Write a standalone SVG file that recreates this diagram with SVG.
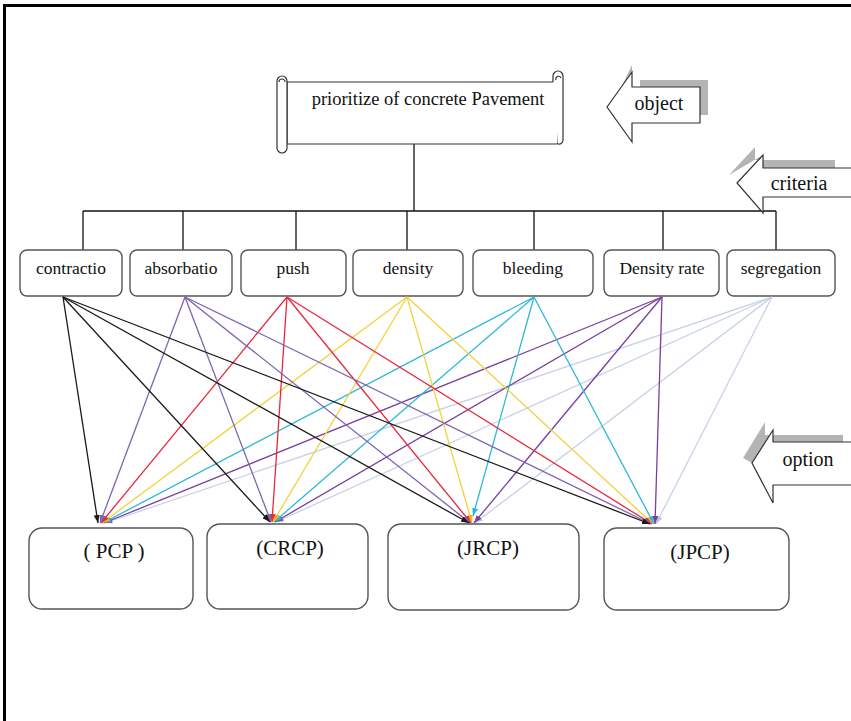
<svg xmlns="http://www.w3.org/2000/svg" width="851" height="721" viewBox="0 0 851 721">
<style>
.t{font-family:"Liberation Serif","Times New Roman",serif;fill:#111}
.box{fill:#fff;stroke:#555;stroke-width:1.4}
.tree{stroke:#111;stroke-width:1.3;fill:none}
.c{fill:none;stroke-width:1.3}
.blk{fill:#fff;stroke:#333;stroke-width:1.2}
.shd{fill:#b4b4b4}
</style>
<defs>
<marker id="mk" viewBox="0 0 8 6" refX="8" refY="3" markerWidth="8" markerHeight="6" markerUnits="userSpaceOnUse" orient="auto"><path d="M0,0 L8,3 L0,6 z" fill="#1a1a1a"/></marker>
<marker id="ma" viewBox="0 0 8 6" refX="8" refY="3" markerWidth="8" markerHeight="6" markerUnits="userSpaceOnUse" orient="auto"><path d="M0,0 L8,3 L0,6 z" fill="#7f63b0"/></marker>
<marker id="mp" viewBox="0 0 8 6" refX="8" refY="3" markerWidth="8" markerHeight="6" markerUnits="userSpaceOnUse" orient="auto"><path d="M0,0 L8,3 L0,6 z" fill="#e8283c"/></marker>
<marker id="md" viewBox="0 0 8 6" refX="8" refY="3" markerWidth="8" markerHeight="6" markerUnits="userSpaceOnUse" orient="auto"><path d="M0,0 L8,3 L0,6 z" fill="#f0b020"/></marker>
<marker id="mb" viewBox="0 0 8 6" refX="8" refY="3" markerWidth="8" markerHeight="6" markerUnits="userSpaceOnUse" orient="auto"><path d="M0,0 L8,3 L0,6 z" fill="#2db8d6"/></marker>
<marker id="mr" viewBox="0 0 8 6" refX="8" refY="3" markerWidth="8" markerHeight="6" markerUnits="userSpaceOnUse" orient="auto"><path d="M0,0 L8,3 L0,6 z" fill="#7a3fa0"/></marker>
<marker id="ms" viewBox="0 0 8 6" refX="8" refY="3" markerWidth="8" markerHeight="6" markerUnits="userSpaceOnUse" orient="auto"><path d="M0,0 L8,3 L0,6 z" fill="#b8c4dc"/></marker>
</defs>
<rect width="851" height="721" fill="#fff"/>
<path d="M4.5,721 V5.5 H851" fill="none" stroke="#000" stroke-width="3"/>

<g id="tree" class="tree">
<path d="M414,144 V211"/>
<path d="M83,211 H776"/>
<path d="M83,211 V250 M183,211 V250 M296,211 V250 M407,211 V250 M534,211 V250 M663,211 V250 M776,211 V250"/>
</g>

<g id="goal">
<path d="M287,82 H558 V143 Q558,144 556,144 H287 Z" class="blk"/>
<path d="M553,82 V76 A5,5 0 0 1 563,76 V140 A4,4 0 0 1 558,144" fill="#fff" stroke="#333" stroke-width="1.2"/>
<path d="M556,80 A2.5,2.5 0 0 1 561,78" fill="none" stroke="#333" stroke-width="1.1"/>
<rect x="277" y="76" width="10" height="77" rx="5" fill="#fff" stroke="#333" stroke-width="1.2"/>
<path d="M279,82 A3,3 0 1 1 285,82" fill="none" stroke="#333" stroke-width="1.1"/>
<text class="t" x="428" y="105" font-size="18.5" text-anchor="middle">prioritize of concrete Pavement</text>
</g>

<g id="arrow-object">
<path class="shd" d="M632,65 L615,100 L640,100 L640,80 L708,80 L708,115 L700,115 L700,87 L632,87 Z"/>
<path class="blk" d="M607,107 L632,72 L632,87 L700,87 L700,123 L632,123 L632,142 Z"/>
<text class="t" x="659" y="110" font-size="20" text-anchor="middle">object</text>
</g>
<g id="arrow-criteria">
<path class="shd" d="M729,175 L755,147 L755,160 L835,160 L835,168 L763,168 L763,155 Z"/>
<path class="blk" d="M737,183 L763,155 L763,168 L852,168 L852,197 L763,197 L763,213 Z"/>
<text class="t" x="799" y="190" font-size="20" text-anchor="middle">criteria</text>
</g>
<g id="arrow-option">
<path class="shd" d="M743,458 L765,422 L765,435 L843,435 L843,442 L773,442 L773,430 L752,463 Z"/>
<path class="blk" d="M752,463 L773,430 L773,442 L852,442 L852,485 L773,485 L773,503 Z"/>
<text class="t" x="808" y="466" font-size="20" text-anchor="middle">option</text>
</g>

<g id="c-contractio"><rect class="box" x="20" y="250" width="102" height="46" rx="7"/><text class="t" x="71" y="274" font-size="17.5" text-anchor="middle">contractio</text></g>
<g id="c-absorbatio"><rect class="box" x="130" y="250" width="102" height="46" rx="7"/><text class="t" x="181" y="274" font-size="17.5" text-anchor="middle">absorbatio</text></g>
<g id="c-push"><rect class="box" x="241" y="250" width="105" height="46" rx="7"/><text class="t" x="293" y="274" font-size="17.5" text-anchor="middle">push</text></g>
<g id="c-density"><rect class="box" x="353" y="250" width="110" height="46" rx="7"/><text class="t" x="408" y="274" font-size="17.5" text-anchor="middle">density</text></g>
<g id="c-bleeding"><rect class="box" x="473" y="250" width="120" height="46" rx="7"/><text class="t" x="533" y="274" font-size="17.5" text-anchor="middle">bleeding</text></g>
<g id="c-densityrate"><rect class="box" x="604" y="250" width="115" height="46" rx="7"/><text class="t" x="662" y="274" font-size="17.5" text-anchor="middle">Density rate</text></g>
<g id="c-segregation"><rect class="box" x="727" y="250" width="108" height="46" rx="7"/><text class="t" x="781" y="274" font-size="17.5" text-anchor="middle">segregation</text></g>

<g id="o-pcp"><rect class="box" x="29" y="528" width="164" height="81" rx="13"/><text class="t" x="114" y="558" font-size="21" text-anchor="middle">( PCP )</text></g>
<g id="o-crcp"><rect class="box" x="207" y="524" width="161" height="85" rx="13"/><text class="t" x="290" y="555" font-size="21" text-anchor="middle">(CRCP)</text></g>
<g id="o-jrcp"><rect class="box" x="388" y="524" width="191" height="86" rx="13"/><text class="t" x="488" y="555" font-size="21" text-anchor="middle">(JRCP)</text></g>
<g id="o-jpcp"><rect class="box" x="604" y="528" width="185" height="82" rx="13"/><text class="t" x="700" y="559" font-size="21" text-anchor="middle">(JPCP)</text></g>

<g id="connectors">
<g stroke="#c8d2e6" class="c" marker-end="url(#ms)">
<path d="M772,297 L105,523"/><path d="M772,297 L276,522"/><path d="M772,297 L475,523"/><path d="M772,297 L656,524"/>
</g>
<g stroke="#7a3fa0" class="c" marker-end="url(#mr)">
<path d="M662,297 L104,523"/><path d="M662,297 L275,522"/><path d="M662,297 L474,523"/><path d="M662,297 L655,524"/>
</g>
<g stroke="#2db8d6" class="c" marker-end="url(#mb)">
<path d="M534,297 L103,523"/><path d="M534,297 L274,522"/><path d="M534,297 L473,516"/><path d="M534,297 L654,524"/>
</g>
<g stroke="#f2d23c" class="c" marker-end="url(#md)">
<path d="M407,297 L102,523"/><path d="M407,297 L273,522"/><path d="M407,297 L472,523"/><path d="M407,297 L653,524"/>
</g>
<g stroke="#e8283c" class="c" marker-end="url(#mp)">
<path d="M287,297 L101,523"/><path d="M287,297 L272,522"/><path d="M287,297 L471,523"/><path d="M287,297 L652,524"/>
</g>
<g stroke="#7f63b0" class="c" marker-end="url(#ma)">
<path d="M185,297 L100,523"/><path d="M185,297 L271,522"/><path d="M185,297 L470,523"/><path d="M185,297 L651,524"/>
</g>
<g stroke="#1a1a1a" class="c" marker-end="url(#mk)">
<path d="M63,297 L98,523"/><path d="M63,297 L270,522"/><path d="M63,297 L469,523"/><path d="M63,297 L650,524"/>
</g>
</g>
</svg>
